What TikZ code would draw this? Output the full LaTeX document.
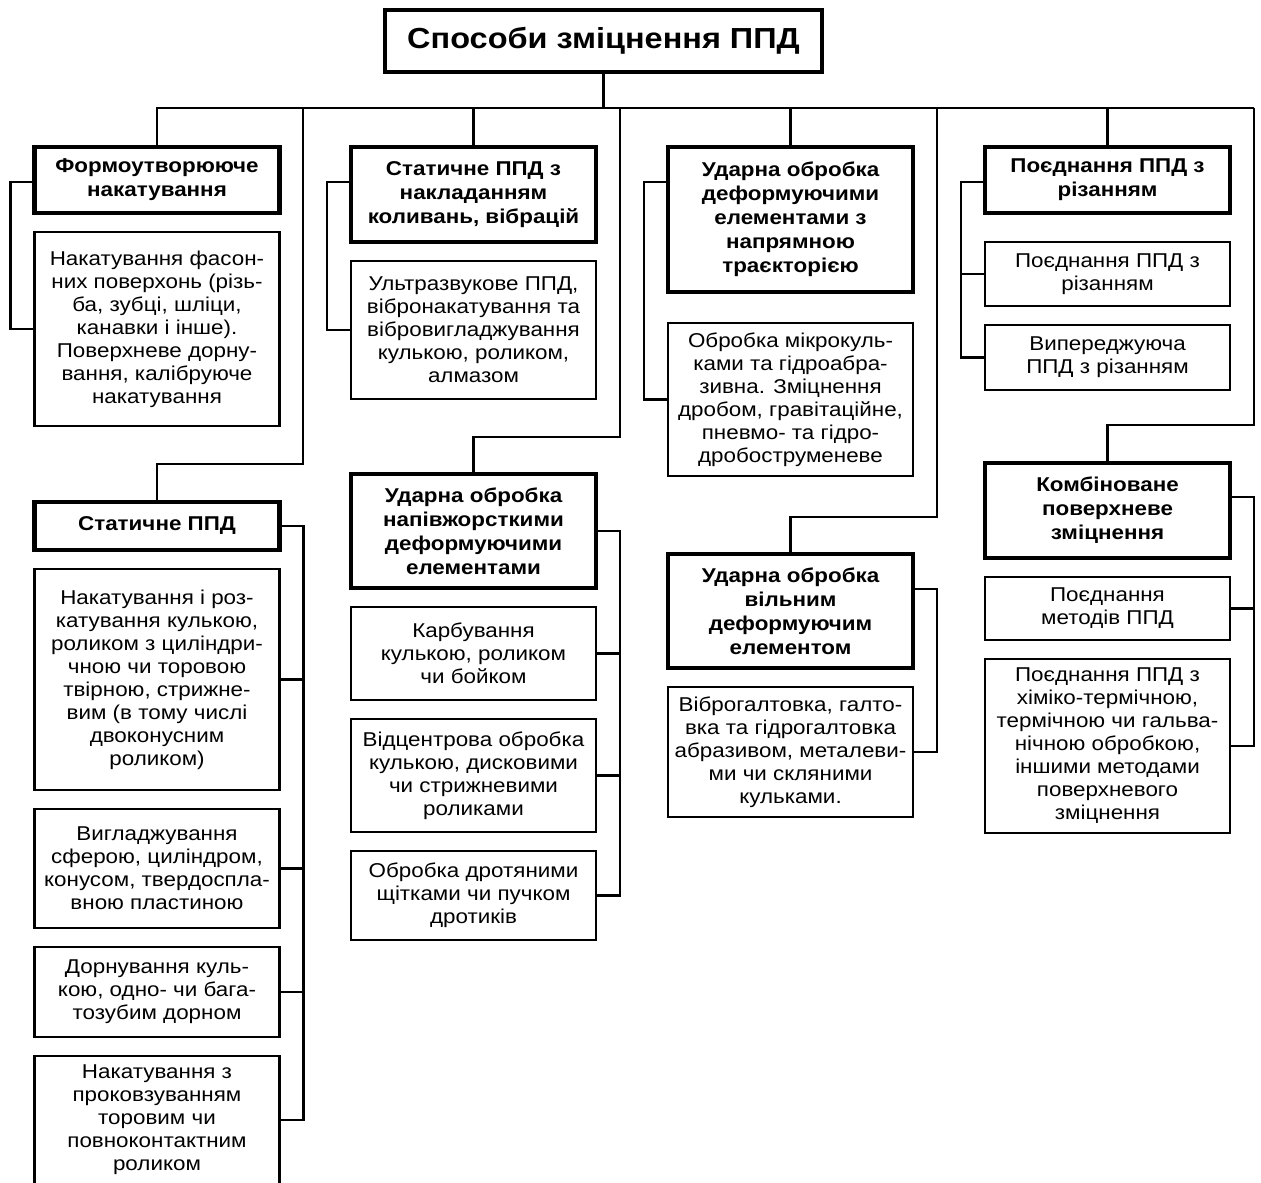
\documentclass[tikz,border=0pt]{standalone}
\usepackage{fontspec}
\setmainfont{Liberation Sans}[FakeStretch=1.12]
\usetikzlibrary{positioning}

\begin{document}
\begin{tikzpicture}[node distance=9.5pt, x=0.5pt, y=-0.5pt]
    % Define styles
    \tikzstyle{title} = [rectangle, draw, line width=2.4pt, outer sep=0pt, align=center, minimum width=218.5pt, minimum height=31pt, font=\fontsize{14.5}{17}\selectfont\bfseries]
    \tikzstyle{head} = [rectangle, draw, line width=2.4pt, outer sep=0pt, align=center, inner sep=2pt, minimum width=122.5pt, font=\fontsize{10}{12}\selectfont\bfseries]
    \tikzstyle{item} = [rectangle, draw, line width=1.2pt, outer sep=0pt, align=center, inner sep=2pt, minimum width=122.5pt, font=\fontsize{10}{11.5}\selectfont]
    \tikzstyle{link} = [line width=1.2pt]

    \clip (0,0) rectangle (1261,1182);

    % Title
    \node[title] (title) at (603.5,41) {Способи зміцнення ППД};

    % Bus points
    \coordinate (jA) at (303,108);
    \coordinate (jB) at (620,108);
    \coordinate (jC) at (937,108);
    \coordinate (jD) at (1254,108);

    % Column 1
    \node[head, anchor=north, minimum height=33pt] (fA) at (157,147) {Формоутворююче\\накатування};
    \node[item, below=of fA, minimum height=97pt] (fA1) {Накатування фасон-\\них поверхонь (різь-\\ба, зубці, шліци,\\канавки і інше).\\Поверхневе дорну-\\вання, калібруюче\\накатування};
    \node[head, anchor=north, minimum height=24pt] (sA) at (157,502) {Статичне ППД};
    \node[item, below=of sA, minimum height=110.5pt] (sA1) {Накатування і роз-\\катування кулькою,\\роликом з циліндри-\\чною чи торовою\\твірною, стрижне-\\вим (в тому числі\\двоконусним\\роликом)};
    \node[item, below=of sA1, minimum height=59.5pt] (sA2) {Вигладжування\\сферою, циліндром,\\конусом, твердоспла-\\вною пластиною};
    \node[item, below=of sA2, minimum height=45pt] (sA3) {Дорнування куль-\\кою, одно- чи бага-\\тозубим дорном};
    \node[item, below=of sA3, minimum height=64pt] (sA4) {Накатування з\\проковзуванням\\торовим чи\\повноконтактним\\роликом};

    % Column 2
    \node[head, anchor=north, minimum height=47.5pt] (vB) at (473.5,147) {Статичне ППД з\\накладанням\\коливань, вібрацій};
    \node[item, below=of vB, minimum height=69pt] (vB1) {Ультразвукове ППД,\\вібронакатування та\\вібровигладжування\\кулькою, роликом,\\алмазом};
    \node[head, anchor=north, minimum height=57pt] (nB) at (473.5,474) {Ударна обробка\\напівжорсткими\\деформуючими\\елементами};
    \node[item, below=of nB, minimum height=46.5pt] (nB1) {Карбування\\кулькою, роликом\\чи бойком};
    \node[item, below=of nB1, minimum height=56.5pt] (nB2) {Відцентрова обробка\\кулькою, дисковими\\чи стрижневими\\роликами};
    \node[item, below=of nB2, minimum height=44.5pt] (nB3) {Обробка дротяними\\щітками чи пучком\\дротиків};

    % Column 3
    \node[head, anchor=north, minimum height=72.5pt] (dC) at (790.5,147) {Ударна обробка\\деформуючими\\елементами з\\напрямною\\траєкторією};
    \node[item, below=15.5pt of dC, minimum height=76.5pt] (dC1) {Обробка мікрокуль-\\ками та гідроабра-\\зивна. Зміцнення\\дробом, гравітаційне,\\пневмо- та гідро-\\дробоструменеве};
    \node[head, anchor=north, minimum height=57pt] (wC) at (790.5,554) {Ударна обробка\\вільним\\деформуючим\\елементом};
    \node[item, below=of wC, minimum height=65pt] (wC1) {Віброгалтовка, галто-\\вка та гідрогалтовка\\абразивом, металеви-\\ми чи скляними\\кульками.};

    % Column 4
    \node[head, anchor=north, minimum height=33pt] (rD) at (1107.5,147) {Поєднання ППД з\\різанням};
    \node[item, below=14.5pt of rD, minimum height=32pt] (rD1) {Поєднання ППД з\\різанням};
    \node[item, below=of rD1, minimum height=32.5pt] (rD2) {Випереджуюча\\ППД з різанням};
    \node[head, anchor=north, minimum height=47.5pt] (kD) at (1107.5,463) {Комбіноване\\поверхневе\\зміцнення};
    \node[item, below=of kD, minimum height=31.5pt] (kD1) {Поєднання\\методів ППД};
    \node[item, below=of kD1, minimum height=87pt] (kD2) {Поєднання ППД з\\хіміко-термічною,\\термічною чи гальва-\\нічною обробкою,\\іншими методами\\поверхневого\\зміцнення};

    % Relations
    \draw[link] (title.south) -- (title.south |- jD);
    \draw[link] (fA.north) |- (jD);
    \draw[link] (vB.north) -- (vB.north |- jD);
    \draw[link] (dC.north) -- (dC.north |- jD);
    \draw[link] (rD.north) -- (rD.north |- jD);
    \draw[link] (sA.north) -- ++(0,-38) -| (jA);
    \draw[link] (nB.north) -- ++(0,-37) -| (jB);
    \draw[link] (wC.north) -- ++(0,-37) -| (jC);
    \draw[link] (kD.north) -- ++(0,-38) -| (jD);

    \draw[link] (fA.north west) ++(0,35) -- ++(-24,0) |- (fA1.west);
    \draw[link] (vB.north west) ++(0,35) -- ++(-24,0) |- (vB1.west);
    \draw[link] (dC.north west) ++(0,35) -- ++(-24,0) |- (dC1.west);
    \draw[link] (rD.north west) ++(0,35) -- ++(-24,0) |- (rD2.west);
    \draw[link] (rD1.west) -- ++(-24,0);

    \draw[link] (sA.east) -- ++(24,0) |- (sA4.east);
    \draw[link] (sA1.east) -- ++(24,0);
    \draw[link] (sA2.east) -- ++(24,0);
    \draw[link] (sA3.east) -- ++(24,0);
    \draw[link] (nB.east) -- ++(24,0) |- (nB3.east);
    \draw[link] (nB1.east) -- ++(24,0);
    \draw[link] (nB2.east) -- ++(24,0);
    \draw[link] (wC.north east) ++(0,35) -- ++(24,0) |- (wC1.east);
    \draw[link] (kD.north east) ++(0,34) -- ++(24,0) |- (kD2.east);
    \draw[link] (kD1.east) -- ++(24,0);

\end{tikzpicture}
\end{document}
